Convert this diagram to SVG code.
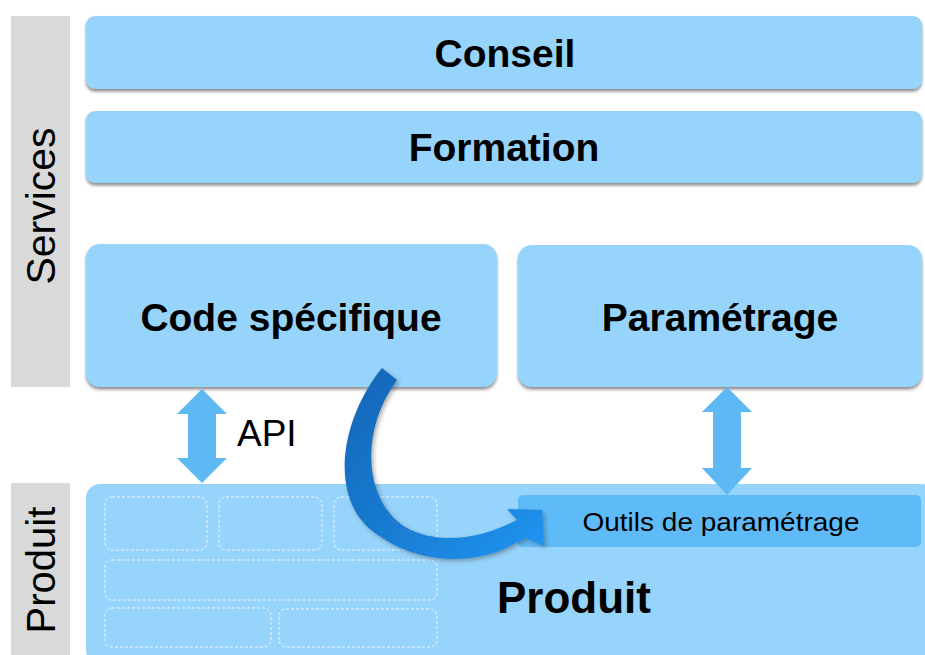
<svg xmlns="http://www.w3.org/2000/svg" width="925" height="655" viewBox="0 0 925 655">
<defs>
<style>
.box{fill:#97d4fb;filter:url(#sh)}
.bold{font-family:"Liberation Sans",Arial,sans-serif;font-weight:bold;fill:#000;text-anchor:middle}
.reg{font-family:"Liberation Sans",Arial,sans-serif;fill:#000}
.side{fill:#d9d9d9}
.dash{fill:none;stroke:#ffffff;stroke-width:1;stroke-dasharray:3 2;opacity:0.8}
.dbl{fill:#5db8f3}
</style>
<filter id="sh" x="-5%" y="-10%" width="110%" height="130%">
<feDropShadow dx="0" dy="2.5" stdDeviation="1.5" flood-color="#404040" flood-opacity="0.6"/>
</filter>
<filter id="sh2" x="-20%" y="-20%" width="140%" height="140%">
<feDropShadow dx="2" dy="2" stdDeviation="2" flood-color="#303030" flood-opacity="0.4"/>
</filter>
<linearGradient id="cg" x1="0" y1="0" x2="1" y2="1">
<stop offset="0" stop-color="#1565b5"/>
<stop offset="0.6" stop-color="#1a7fd6"/>
<stop offset="1" stop-color="#2196f3"/>
</linearGradient>
</defs>
<rect width="925" height="655" fill="#ffffff"/>

<g id="services-label">
<rect class="side" x="11" y="16" width="59" height="371"/>
<text class="reg" font-size="41" text-anchor="middle" transform="translate(55,206) rotate(-90)">Services</text>
</g>
<g id="produit-label">
<rect class="side" x="11" y="483" width="59" height="172"/>
<text class="reg" font-size="40" text-anchor="middle" transform="translate(55,570) rotate(-90)">Produit</text>
</g>

<g id="conseil">
<rect class="box" x="86" y="16" width="836" height="73" rx="9"/>
<text class="bold" x="505" y="67" font-size="39">Conseil</text>
</g>
<g id="formation">
<rect class="box" x="86" y="111" width="836" height="72" rx="9"/>
<text class="bold" x="504" y="161" font-size="39">Formation</text>
</g>
<g id="code-specifique">
<rect class="box" x="86" y="244" width="411" height="143" rx="14"/>
<text class="bold" x="291" y="331" font-size="39">Code spécifique</text>
</g>
<g id="parametrage">
<rect class="box" x="518" y="245" width="404" height="142" rx="14"/>
<text class="bold" x="720" y="331" font-size="39">Paramétrage</text>
</g>

<g id="produit">
<rect x="86" y="484" width="850" height="180" rx="14" fill="#97d4fb"/>
<rect class="dash" x="105" y="497" width="102" height="53" rx="7"/>
<rect class="dash" x="219" y="497" width="103" height="53" rx="7"/>
<rect class="dash" x="334" y="497" width="103" height="53" rx="7"/>
<rect class="dash" x="105" y="560" width="332" height="40" rx="7"/>
<rect class="dash" x="105" y="608" width="166" height="39" rx="7"/>
<rect class="dash" x="279" y="609" width="158" height="38" rx="7"/>
<text class="bold" x="574" y="613" font-size="44">Produit</text>
</g>
<g id="outils">
<rect x="518" y="495" width="403" height="52" rx="5" fill="#5fbbf7"/>
<text class="reg" x="721" y="531" font-size="26" text-anchor="middle" textLength="277" lengthAdjust="spacingAndGlyphs">Outils de paramétrage</text>
</g>

<g id="connectors">
<path class="dbl" d="M202,389 L227,414 L216,414 L216,458 L227,458 L202,483 L177,458 L188,458 L188,414 L177,414 Z"/>
<path class="dbl" d="M727,387 L752,412 L741,412 L741,468 L752,468 L727,495 L702,468 L713,468 L713,412 L702,412 Z"/>
<path fill="url(#cg)" filter="url(#sh2)" d="M382,368 C340,420 330,495 370,529 C405,558 455,568 502,550 L526,538 L544,546 L542,510 L507,509 L517,520 C478,540 438,545 405,527 C363,500 360,430 397,380 Z"/>
<text class="reg" x="237" y="446" font-size="37">API</text>
</g>
</svg>
